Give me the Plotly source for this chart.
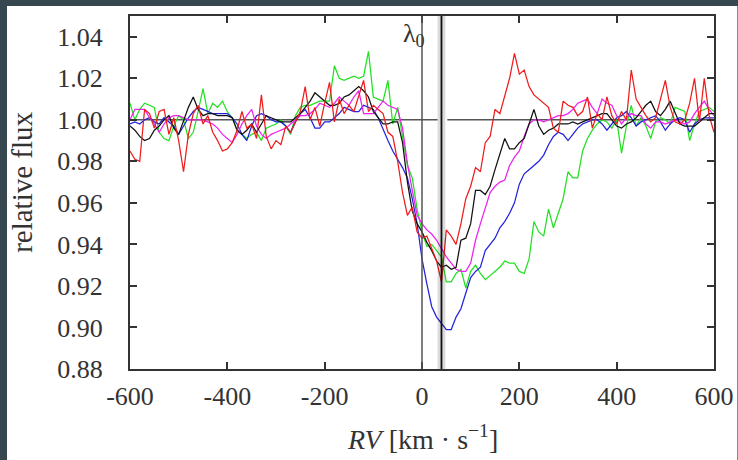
import plotly.graph_objects as go

rv = list(range(-600, 601, 10))

red = [
    0.985, 0.981, 0.980, 1.005, 1.003, 0.996, 1.004, 1.005, 0.993, 1.001,
    0.990, 0.975, 0.993, 1.003, 1.007, 0.998, 1.002, 0.994, 0.990, 0.985,
    0.986, 0.989, 0.995, 1.004, 0.996, 0.998, 0.991, 1.012, 0.992, 0.986,
    0.990, 0.988, 0.997, 0.994, 0.999, 1.004, 1.016, 1.000, 1.006, 0.997,
    1.008, 1.018, 0.999, 1.010, 1.003, 1.007, 1.004, 1.012, 1.019, 1.004,
    1.007, 1.005, 1.003, 0.994, 0.992, 0.980, 0.965, 0.954, 0.958, 0.946,
    0.943, 0.944, 0.938, 0.932, 0.922, 0.947, 0.944, 0.940, 0.950, 0.962,
    0.968, 0.977, 0.975, 0.989, 0.992, 1.005, 1.003, 1.012, 1.020, 1.032,
    1.022, 1.024, 1.016, 1.012, 1.010, 1.008, 1.006, 0.996, 0.994, 1.009,
    1.007, 1.006, 1.002, 1.004, 1.011, 0.996, 1.003, 1.000, 1.011, 1.002,
    0.998, 1.004, 1.000, 1.024, 1.010, 1.006, 1.002, 0.999, 1.001, 1.010,
    1.019, 1.006, 0.999, 0.998, 1.000, 1.008, 1.020, 0.999, 1.020, 1.002, 0.994,
]

black = [
    0.997, 0.995, 0.992, 0.990, 0.991, 0.995, 0.997, 1.000, 1.002, 0.996,
    0.993, 1.000, 1.006, 1.011, 1.005, 1.002, 1.003, 1.003, 1.002, 1.002,
    1.002, 1.001, 0.995, 0.993, 0.995, 0.998, 0.994, 0.998, 1.002, 1.001,
    1.000, 0.999, 0.999, 0.999, 1.001, 1.003, 1.006, 1.009, 1.013, 1.011,
    1.009, 1.007, 1.007, 1.008, 1.011, 1.012, 1.014, 1.016, 1.014, 1.011,
    1.004, 1.001, 0.998, 0.998, 0.999, 0.999, 0.989, 0.970, 0.956, 0.950,
    0.946, 0.941, 0.937, 0.932, 0.929, 0.930, 0.928, 0.929, 0.942, 0.943,
    0.950, 0.966, 0.966, 0.964, 0.968, 0.976, 0.984, 0.991, 0.986, 0.986,
    0.989, 0.991, 0.998, 1.005, 0.997, 0.993, 0.995, 0.996, 0.998, 0.998,
    0.998, 0.999, 0.998, 0.999, 1.000, 1.001, 1.002, 1.003, 1.003, 1.000,
    0.997, 0.996, 0.998, 0.999, 1.001, 1.004, 1.007, 1.009, 1.004, 1.002,
    1.005, 1.009, 1.003, 0.998, 0.997, 0.997, 0.997, 0.999, 1.001, 1.003, 1.003,
]

magenta = [
    1.000, 1.005, 1.005, 1.005, 1.001, 0.998, 0.994, 0.998, 1.001, 1.002,
    1.002, 1.001, 1.000, 1.000, 1.000, 1.000, 0.999, 0.998, 0.996, 0.993,
    0.991, 0.989, 0.993, 0.998, 1.002, 1.005, 0.997, 0.993, 0.991, 0.993,
    0.994, 0.995, 0.996, 0.998, 1.000, 1.002, 1.002, 1.003, 1.005, 1.008,
    1.007, 1.006, 1.008, 1.011, 1.009, 1.007, 1.011, 1.014, 1.003, 1.003,
    1.003, 1.006, 1.009, 1.007, 1.006, 1.005, 0.996, 0.979, 0.966, 0.954,
    0.950, 0.947, 0.945, 0.942, 0.938, 0.934, 0.931, 0.928, 0.927, 0.927,
    0.931, 0.942, 0.950, 0.958, 0.965, 0.968, 0.970, 0.971, 0.978, 0.982,
    0.985, 0.992, 0.998, 1.000, 1.000, 0.999, 1.000, 1.001, 1.002, 1.002,
    1.003, 1.005, 1.008, 1.009, 1.010, 1.006, 1.003, 1.010, 1.008, 1.007,
    1.002, 0.998, 1.001, 1.003, 1.002, 1.002, 0.998, 0.996, 0.999, 0.999,
    0.998, 0.999, 1.000, 0.999, 0.998, 0.999, 1.003, 1.006, 1.009, 1.005, 1.002,
]

blue = [
    0.998, 0.999, 0.998, 1.000, 1.001, 0.999, 0.998, 1.001, 0.999, 0.997,
    0.993, 0.997, 1.001, 1.004, 1.006, 1.005, 1.004, 1.003, 1.003, 1.003,
    1.003, 1.001, 0.998, 0.993, 0.990, 0.997, 1.002, 1.003, 1.002, 1.000,
    0.999, 0.999, 0.997, 0.994, 0.999, 1.003, 1.005, 1.001, 0.996, 0.996,
    0.999, 0.999, 1.001, 1.003, 1.006, 1.005, 1.004, 1.004, 1.007, 1.006,
    1.005, 1.001, 0.995, 0.990, 0.985, 0.981, 0.977, 0.972, 0.962, 0.950,
    0.933, 0.921, 0.910, 0.905, 0.902, 0.899, 0.899, 0.905, 0.909, 0.916,
    0.924, 0.927, 0.929, 0.937, 0.940, 0.943, 0.948, 0.951, 0.955, 0.960,
    0.969, 0.974, 0.976, 0.978, 0.980, 0.983, 0.988, 0.992, 0.994, 0.993,
    0.990, 0.993, 0.996, 0.998, 0.999, 1.000, 1.000, 0.998, 0.995, 0.998,
    1.001, 1.002, 1.004, 1.001, 0.997, 0.999, 1.000, 1.001, 1.002, 0.999,
    0.995, 0.998, 1.000, 1.001, 1.000, 0.994, 0.998, 1.000, 1.001, 1.001, 1.001,
]

green = [
    1.008, 1.000, 1.005, 1.008, 1.007, 1.006, 0.994, 0.991, 0.990, 0.997,
    1.002, 1.000, 0.991, 0.994, 1.004, 1.015, 1.003, 1.008, 1.006, 1.009,
    1.004, 1.001, 0.995, 0.993, 0.991, 0.993, 0.994, 0.990, 0.996, 0.997,
    0.998, 1.000, 0.997, 0.993, 1.002, 1.006, 1.007, 1.007, 1.008, 1.009,
    1.009, 1.009, 1.026, 1.020, 1.019, 1.020, 1.021, 1.020, 1.021, 1.033,
    1.011, 1.010, 1.009, 1.019, 0.998, 1.006, 0.991, 0.978, 0.972, 0.957,
    0.946, 0.939, 0.940, 0.937, 0.934, 0.922, 0.922, 0.926, 0.928, 0.919,
    0.927, 0.930, 0.926, 0.923, 0.925, 0.927, 0.929, 0.932, 0.931, 0.931,
    0.927, 0.926, 0.933, 0.951, 0.946, 0.944, 0.957, 0.948, 0.955, 0.962,
    0.975, 0.972, 0.972, 0.985, 0.991, 0.995, 0.998, 1.000, 0.999, 0.996,
    1.000, 0.984, 0.997, 1.007, 0.997, 1.001, 0.997, 0.991, 0.999, 1.001,
    1.000, 0.998, 1.006, 1.005, 1.004, 0.990, 0.998, 1.004, 1.005, 1.006, 1.004,
]

x_tickvals = [-600, -400, -200, 0, 200, 400, 600]
x_ticktext = ["-600", "-400", "-200", "0", "200", "400", "600"]
y_tickvals = [0.88, 0.90, 0.92, 0.94, 0.96, 0.98, 1.00, 1.02, 1.04]
y_ticktext = ["0.88", "0.90", "0.92", "0.94", "0.96", "0.98", "1.00", "1.02", "1.04"]

rest_velocity = 0
line_velocity = 40
band = [32, 48]
continuum = 1.0

FONT = "Liberation Serif"
TXT = "#333333"

fig = go.Figure()
series = [
    (green, "#22e022"),
    (blue, "#2222dd"),
    (magenta, "#ee22ee"),
    (black, "#111111"),
    (red, "#ee1c1c"),
]
for ys, col in series:
    fig.add_trace(go.Scatter(x=rv, y=ys, mode="lines",
                             line=dict(color=col, width=1.25),
                             showlegend=False, hoverinfo="skip"))

shapes = [
    dict(type="rect", xref="paper", yref="paper", x0=-0.2106, x1=1.04, y0=-0.26, y1=1.028,
         fillcolor="white", line=dict(width=0), layer="below"),
    dict(type="line", xref="x", yref="y", x0=-600, x1=band[0], y0=continuum, y1=continuum,
         line=dict(color="#555555", width=1.5), layer="below"),
    dict(type="line", xref="x", yref="y", x0=band[1] + 4, x1=600, y0=continuum, y1=continuum,
         line=dict(color="#555555", width=1.5), layer="below"),
    dict(type="line", xref="x", yref="paper", x0=rest_velocity, x1=rest_velocity, y0=0, y1=1,
         line=dict(color="#555555", width=1.5)),
    dict(type="rect", xref="x", yref="paper", x0=band[0], x1=band[1], y0=0, y1=1,
         fillcolor="rgba(0,0,0,0.14)", line=dict(width=0)),
    dict(type="line", xref="x", yref="paper", x0=line_velocity, x1=line_velocity, y0=0, y1=1,
         line=dict(color="#111111", width=1.8)),
]

annotations = [
    dict(text="λ<sub>0</sub>", x=11, y=1.041, xref="x", yref="y", xanchor="right",
         yanchor="middle", showarrow=False, font=dict(family=FONT, size=26, color=TXT)),
    dict(text="<i>RV</i> [km · s<sup>−1</sup>]", x=0.5, y=-0.193, xref="paper", yref="paper",
         xanchor="center", yanchor="middle", showarrow=False,
         font=dict(family=FONT, size=28, color=TXT)),
    dict(text="relative flux", x=-0.185, y=0.53, xref="paper", yref="paper",
         xanchor="center", yanchor="middle", textangle=-90, showarrow=False,
         font=dict(family=FONT, size=29, color=TXT)),
]

axis_common = dict(showline=True, linecolor="#333333", linewidth=2, mirror="ticks",
                   ticks="inside", ticklen=7, tickwidth=1.5, tickcolor="#333333",
                   showgrid=False, zeroline=False, automargin=False,
                   tickfont=dict(family=FONT, size=26, color=TXT))

fig.update_layout(
    width=738, height=460,
    margin=dict(l=130, r=24, t=16, b=91, autoexpand=False),
    paper_bgcolor="#37474f",
    plot_bgcolor="white",
    shapes=shapes,
    annotations=annotations,
    xaxis=dict(range=[-600, 600], tickvals=x_tickvals, ticktext=x_ticktext,
               ticklabelstandoff=3, **axis_common),
    yaxis=dict(range=[0.88, 1.05], tickvals=y_tickvals, ticktext=y_ticktext,
               ticklabelstandoff=20, **axis_common),
)

fig.write_html("out.html")
